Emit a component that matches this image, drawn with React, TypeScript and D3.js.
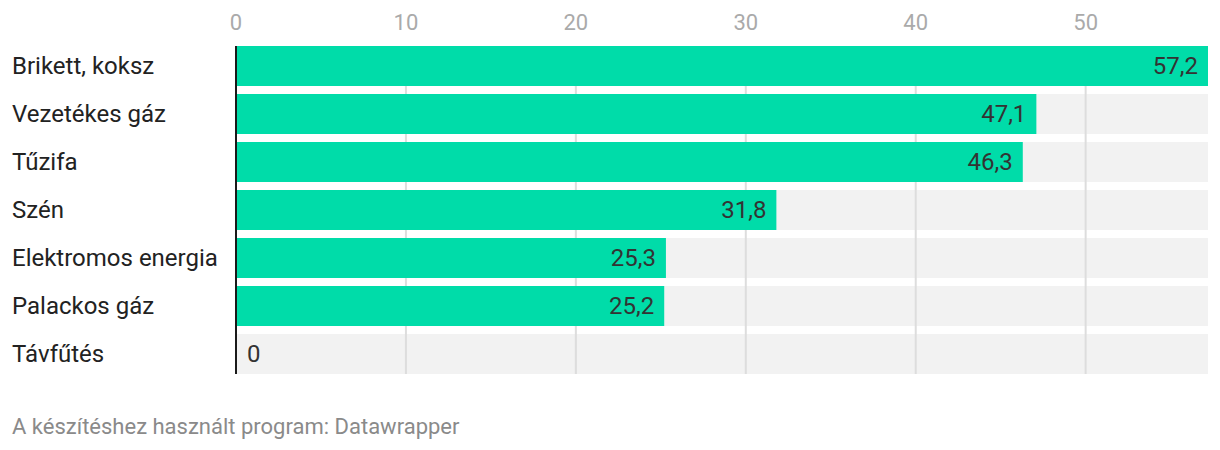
import React from "react";
import * as d3 from "d3";

const categories = ["Brikett, koksz", "Vezetékes gáz", "Tűzifa", "Szén", "Elektromos energia", "Palackos gáz", "Távfűtés"];
const values = [57.2, 47.1, 46.3, 31.8, 25.3, 25.2, 0];
const tickValues = [0, 10, 20, 30, 40, 50];
const footer = "A készítéshez használt program: Datawrapper";

export default function App() {
  const W = 1220, H = 450;
  const x0 = 236, x1 = 1208;
  const top = 46, step = 48, barH = 40;
  const x = d3.scaleLinear().domain([0, 57.2]).range([x0, x1]);
  const n = categories.length;
  const y = d3.scaleBand<string>().domain(categories).range([top, top + step * n - (step - barH)]).paddingInner((step - barH) / step).paddingOuter(0);
  const bottom = top + step * (n - 1) + barH;
  const font = "Roboto, 'Noto Sans', sans-serif";
  return (
    <svg width={W} height={H} style={{ position: "absolute", left: 0, top: 0, background: "#fff" }} fontFamily={font}>
      {categories.map((c) => (
        <rect key={"bg" + c} x={x0} y={y(c)} width={x1 - x0} height={y.bandwidth()} fill="#f2f2f2" />
      ))}
      {tickValues.filter((t) => t > 0).map((t) => (
        <line key={"g" + t} x1={x(t)} x2={x(t)} y1={top} y2={bottom} stroke="#dddddd" strokeWidth={2} />
      ))}
      {tickValues.map((t) => (
        <text key={"t" + t} x={x(t)} y={30} textAnchor="middle" fontSize={22} fill="#aaaaaa">{t}</text>
      ))}
      {categories.map((c, i) => {
        const v = values[i];
        const yy = y(c)!;
        const cy = yy + y.bandwidth() / 2;
        const label = v.toString().replace(".", ",");
        return (
          <g key={c}>
            <rect x={x0} y={yy} width={x(v) - x0} height={y.bandwidth()} fill="#00dca9" />
            <text x={12} y={cy} dy="0.35em" fontSize={24} fill="#222222">{c}</text>
            {v > 3 ? (
              <text x={x(v) - 10} y={cy} dy="0.35em" textAnchor="end" fontSize={24} fill="#333333">{label}</text>
            ) : (
              <text x={x(v) + 11} y={cy} dy="0.35em" textAnchor="start" fontSize={24} fill="#333333">{label}</text>
            )}
          </g>
        );
      })}
      <line x1={x0} x2={x0} y1={top} y2={bottom} stroke="#1a1a1a" strokeWidth={2} />
      <text x={12} y={434} fontSize={22} fill="#8a8a8a">{footer}</text>
    </svg>
  );
}
